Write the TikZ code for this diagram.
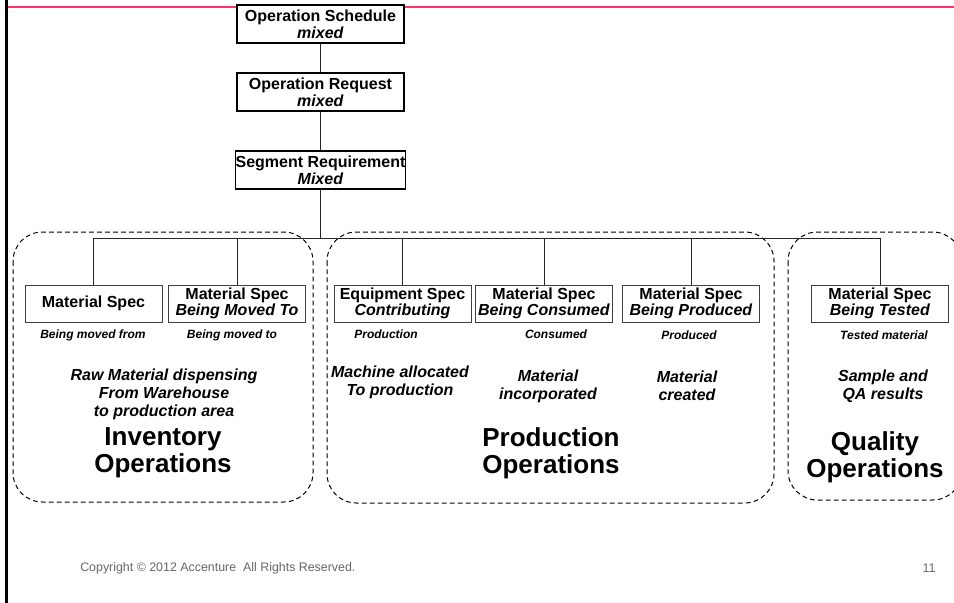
\documentclass[tikz,border=0pt]{standalone}
\usepackage{fontspec}
\setmainfont{Liberation Sans}
\definecolor{headpink}{HTML}{FF3366}
\definecolor{footgray}{HTML}{666666}

\begin{document}
\begin{tikzpicture}[
                    x=0.75pt, y=-0.75pt,
                    top box/.style={
                        draw=black,
                        line width=0.9pt,
                        fill=white,
                        align=center,
                        inner sep=0pt,
                        minimum width=125.25pt,
                        minimum height=28.5pt,
                        font=\fontsize{12}{12.5}\selectfont\bfseries
                    },
                    spec box/.style={
                        top box,
                        draw=black!75,
                        line width=0.75pt,
                        minimum width=102.75pt,
                        minimum height=27.75pt
                    },
                    group box/.style={draw, line width=0.75pt, dash pattern=on 3.5pt off 2.5pt, rounded corners=22pt},
                    link/.style={draw, line width=0.75pt, black!85},
                    sub label/.style={align=center, inner sep=0pt, font=\fontsize{9}{10}\selectfont\bfseries\itshape},
                    note/.style={align=center, inner sep=0pt, font=\fontsize{12}{13.5}\selectfont\bfseries\itshape},
                    big label/.style={align=center, inner sep=0pt, font=\fontsize{19.5}{20.5}\selectfont\bfseries},
                    foot/.style={inner sep=0pt, text=footgray, font=\fontsize{9.3}{10}\selectfont}
                ]
                    \useasboundingbox (0,0) rectangle (954,603);
                    \draw[headpink, line width=1.6pt] (7,6.8) -- (954,6.8);
                    \draw[black, line width=2pt] (6.5,0) -- (6.5,603);

                    \draw[group box] (13,232) rectangle (313,502);
                    \draw[group box] (327,232) rectangle (774,503);
                    \draw[group box] (788,232) rectangle (962,500);

                    \node[top box] (opsched) at (320.5,24) {Operation Schedule\\\textit{mixed}};
                    \node[top box] (opreq) at (320.5,92) {Operation Request\\\textit{mixed}};
                    \node[top box] (segreq) at (320.5,170) {Segment Requirement\\\textit{Mixed}};
                    \coordinate (bus) at (320.5,238);

                    \node[spec box] (movedfrom) at (93.5,303.5) {Material Spec};
                    \node[spec box] (movedto) at (237,303.5) {Material Spec\\\textit{Being Moved To}};
                    \node[spec box] (contrib) at (402.5,303.5) {Equipment Spec\\\textit{Contributing}};
                    \node[spec box] (consumed) at (544,303.5) {Material Spec\\\textit{Being Consumed}};
                    \node[spec box] (produced) at (691,303.5) {Material Spec\\\textit{Being Produced}};
                    \node[spec box] (tested) at (880,303.5) {Material Spec\\\textit{Being Tested}};

                    \draw[link] (opsched) -- (opreq);
                    \draw[link] (opreq) -- (segreq);
                    \draw[link] (segreq) -- (bus);
                    \draw[link] (movedfrom.north) |- (bus);
                    \draw[link] (movedto.north) |- (bus);
                    \draw[link] (contrib.north) |- (bus);
                    \draw[link] (consumed.north) |- (bus);
                    \draw[link] (produced.north) |- (bus);
                    \draw[link] (tested.north) |- (bus);

                    \node[sub label] (fromlbl) at (93,335) {Being moved from};
                    \node[sub label] (tolbl) at (232,335) {Being moved to};
                    \node[sub label] (contriblbl) at (386,334) {Production};
                    \node[sub label] (consumedlbl) at (556,334) {Consumed};
                    \node[sub label] (producedlbl) at (689,335) {Produced};
                    \node[sub label] (testedlbl) at (884,335) {Tested material};

                    \node[note] (invnote) at (164,394) {Raw Material dispensing\\From Warehouse\\to production area};
                    \node[note] (machnote) at (400,382) {Machine allocated\\To production};
                    \node[note] (incnote) at (548,386) {Material\\incorporated};
                    \node[note] (creatnote) at (687,386) {Material\\created};
                    \node[note] (qanote) at (883,386) {Sample and\\QA results};

                    \node[big label] (invops) at (163,453) {Inventory\\Operations};
                    \node[big label] (prodops) at (551,453) {Production\\Operations};
                    \node[big label] (qualops) at (875,457) {Quality\\Operations};

                    \node[foot, anchor=west] (copyright) at (80,568) {Copyright \textcopyright{} 2012 Accenture\ \ All Rights Reserved.};
                    \node[foot] (pagenum) at (929,568) {11};
                \end{tikzpicture}
\end{document}
